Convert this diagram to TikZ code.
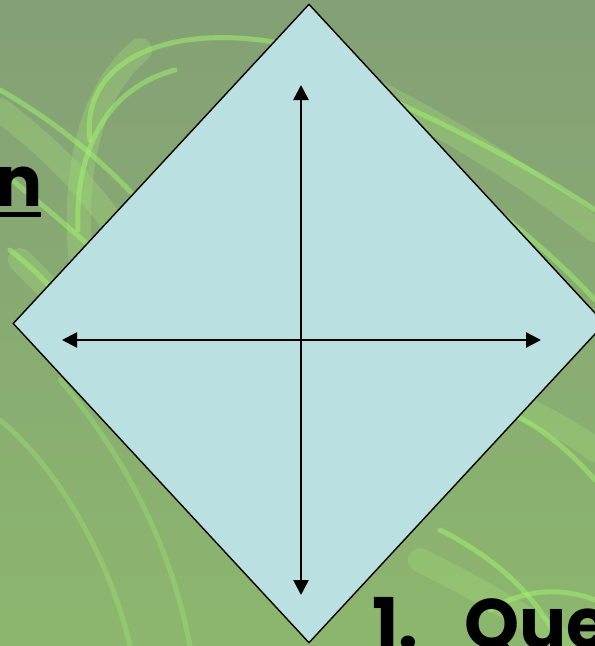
\documentclass[tikz,border=0pt]{standalone}
\usepackage{fontspec}
\setmainfont{Poppins}
\usetikzlibrary{shapes.geometric,arrows.meta}
\definecolor{bgtop}{RGB}{132,160,118}
\definecolor{bgbot}{RGB}{140,182,110}
\definecolor{glow}{RGB}{160,245,110}
\definecolor{glowsoft}{RGB}{165,225,120}
\definecolor{diafill}{RGB}{186,224,226}
\tikzset{
  glowline/.style={draw=glow, line width=5pt, opacity=0.5, line cap=round},
  glowwide/.style={draw=glowsoft, line width=24pt, opacity=0.3, line cap=round},
  diabox/.style={shape=diamond, draw=black, line width=1.4pt, fill=diafill, inner sep=0pt},
  dbl/.style={line width=2.6pt, {Triangle[length=15pt,width=15pt]}-{Triangle[length=15pt,width=15pt]}},
  bigtext/.style={font=\fontsize{70}{70}\selectfont\bfseries, inner sep=0pt, anchor=base west},
}
\begin{document}
\begin{tikzpicture}[x=1pt,y=-1pt]
\useasboundingbox (0,0) rectangle (595,646);
% background
\shade[top color=bgtop, bottom color=bgbot] (0,0) rectangle (595,646);
% soft glows
\draw[glowwide] (85,300) .. controls (70,200) and (80,100) .. (140,50);
\draw[glowwide] (0,110) .. controls (80,170) and (150,250) .. (200,400);
\draw[glowwide] (310,60) .. controls (420,110) and (520,170) .. (595,230);
\draw[glowwide] (480,390) .. controls (530,410) and (570,430) .. (595,450);
\draw[glowwide] (20,260) .. controls (60,300) and (90,330) .. (100,360);
\draw[glowwide] (420,560) .. controls (480,590) and (530,620) .. (570,646);
% bright streaks
\draw[glowline] (90,140) .. controls (80,60) and (170,20) .. (290,45);
\draw[glowline] (78,230) .. controls (75,160) and (100,90) .. (175,70);
\draw[glowline] (0,90) .. controls (70,130) and (160,200) .. (230,330);
\draw[glowline] (0,170) .. controls (60,220) and (110,260) .. (140,300);
\draw[glowline] (10,250) .. controls (60,290) and (90,330) .. (110,380);
\draw[glowline] (320,70) .. controls (420,110) and (520,160) .. (595,210);
\draw[glowline] (360,120) .. controls (450,170) and (540,240) .. (595,300);
\draw[glowline] (470,400) .. controls (520,410) and (560,440) .. (595,480);
\draw[glowline] (440,530) .. controls (500,560) and (540,600) .. (560,646);
\draw[glowline] (490,610) .. controls (530,585) and (570,590) .. (595,600);
\draw[glowline, opacity=0.3] (0,420) .. controls (60,470) and (110,560) .. (130,646);
\draw[glowline, opacity=0.3] (60,380) .. controls (120,450) and (170,540) .. (190,646);
% diamond
\node[diabox, minimum width=592pt, minimum height=639pt] (dia) at (309,323.5) {};
% arrows
\coordinate (vtop) at (301,85);
\coordinate (vbot) at (301,595);
\coordinate (hl) at (62,340);
\coordinate (hr) at (541,340);
\draw[dbl] (vtop) -- (vbot);
\draw[dbl] (hl) -- (hr);
% texts
\node[bigtext] (ntext) at (-5,206) {n};
\coordinate (ulA) at (0,214.5);
\coordinate (ulB) at (41,214.5);
\draw[line width=5pt] (ulA) -- (ulB);
\node[bigtext] (que) at (372,648) {1.\hspace{46pt}Que};
\end{tikzpicture}
\end{document}
